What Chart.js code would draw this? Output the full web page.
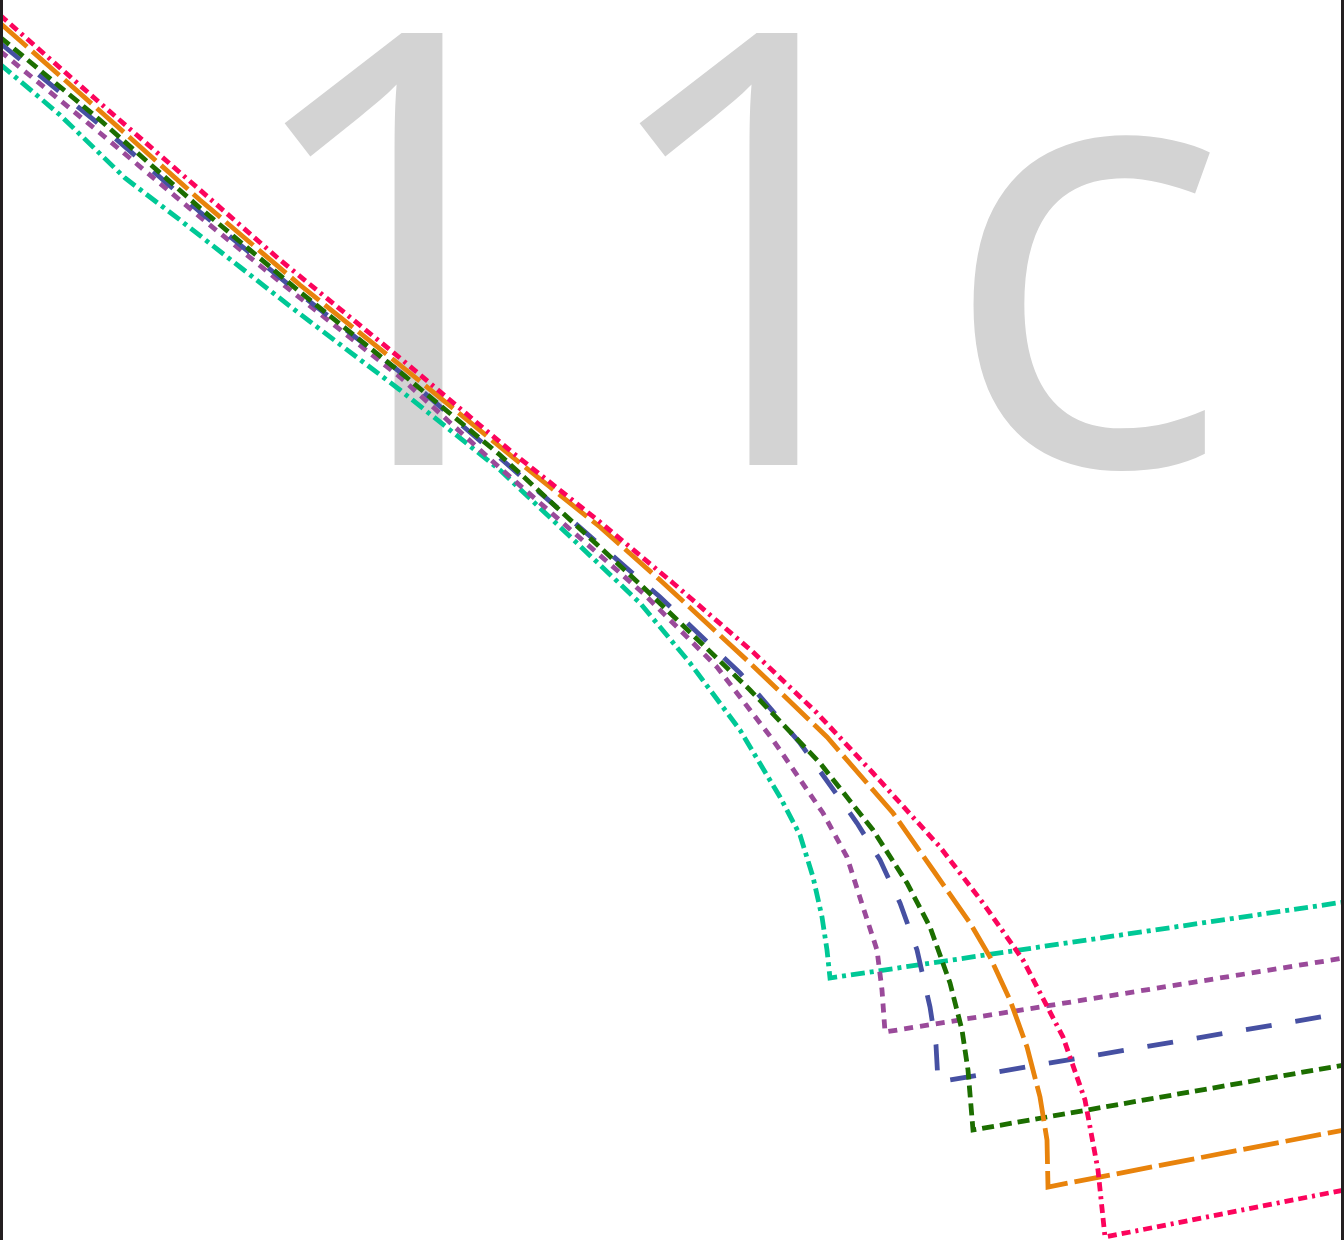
<!DOCTYPE html>
<html>
<head>
<meta charset="utf-8">
<script src="https://cdn.jsdelivr.net/npm/chart.js@4.4.1/dist/chart.umd.min.js"></script>
<style>
  body { margin: 0; background: #fff; }
  #wrap { position: relative; width: 1344px; height: 1240px; overflow: hidden; }
  #mark {
    position: absolute; left: 230px; top: -72px;
    font-family: "Open Sans", "Noto Sans", sans-serif; font-weight: 500;
    font-size: 605px; line-height: 1; color: #d3d3d3;
    white-space: nowrap; letter-spacing: 9px;
  }
  #myChart { position: absolute; left: 0; top: 0; }
  .edge { position: absolute; top: 0; width: 3px; height: 1240px; background: #231f20; }
</style>
</head>
<body>
<div id="wrap">
  <div id="mark">11c</div>
  <canvas id="myChart" width="1344" height="1240"></canvas>
  <div class="edge" style="left:0"></div>
  <div class="edge" style="right:0"></div>
</div>
<script>
'use strict';
// axis limits (no ticks are shown in the picture)
var xLimits = [0, 134.4];
var yLimits = [0, 124];

var names = ['pink', 'orange', 'green', 'blue', 'purple', 'teal'];
var colors = ['#fc045c', '#e8830c', '#1c6e00', '#4650a2', '#9a4a9a', '#00c896'];
var dashes = [[9, 5, 9, 5, 3, 5], [36, 7], [12, 6], [26, 24], [9, 7], [14, 5, 4, 5]];

var pinkX = [0, 10, 20, 28, 40, 51.3, 60, 67.3, 75.3, 81.7, 87.3, 94, 98.3, 102.3, 106.3, 108.5, 109.8, 110.5, 134.4];
var pinkY = [122.5, 113.7, 105.0, 98.0, 88.2, 78.7, 71.8, 65.7, 58.8, 52.7, 46.7, 39.3, 33.7, 28.0, 20.3, 14.0, 7.0, 0.3, 5.0];

var orangeX = [0, 10, 20, 30, 40, 52, 60, 66, 75, 82.7, 89.3, 93.3, 97, 99, 101, 102.7, 104, 104.7, 104.8, 134.4];
var orangeY = [121.7, 112.9, 104.0, 95.5, 87.5, 77.7, 71.3, 66.0, 57.7, 50.3, 42.7, 37.0, 31.7, 28.3, 24.0, 19.3, 14.3, 10.0, 5.3, 11.0];

var greenX = [0, 10, 20, 30, 40, 50, 64.3, 75, 82, 87.3, 90.7, 93, 95, 96.2, 96.8, 97.3, 134.4];
var greenY = [120.3, 112.0, 103.2, 94.8, 86.8, 78.5, 65.3, 55.0, 47.7, 41.0, 35.7, 31.3, 25.7, 21.0, 17.0, 11.0, 17.5];

var blueX = [0, 10, 20, 30, 40, 50, 66, 74, 80, 85.7, 88, 90, 91.7, 93, 93.6, 93.8, 134.4];
var blueY = [119.7, 111.5, 102.8, 94.6, 86.8, 78.2, 64.3, 56.7, 49.7, 41.7, 38.0, 33.7, 29.0, 23.3, 19.5, 15.8, 22.7];

var purpleX = [0, 10, 20, 30, 40, 50, 64.3, 71.7, 77.3, 82.3, 84.7, 86.3, 87.7, 88.2, 88.5, 134.4];
var purpleY = [118.9, 110.7, 102.3, 94.2, 86.3, 77.2, 64.7, 57.3, 50.0, 42.7, 38.3, 33.3, 29.0, 25.0, 20.8, 28.2];

var tealX = [0, 6, 12.5, 18, 24, 30, 40, 50, 64, 69, 74, 78, 80, 81.3, 82.2, 82.7, 83, 134.4];
var tealY = [117.6, 112.5, 106.2, 102.0, 97.3, 92.6, 85.0, 77.0, 63.7, 57.7, 51.0, 44.3, 40.5, 36.3, 32.3, 29.0, 26.2, 33.8];

var allX = [pinkX, orangeX, greenX, blueX, purpleX, tealX];
var allY = [pinkY, orangeY, greenY, blueY, purpleY, tealY];

function makePoints(xs, ys) {
  var pts = [];
  for (var i = 0; i < xs.length; i++) {
    pts.push({x: xs[i], y: ys[i]});
  }
  return pts;
}

var datasets = [];
for (var i = 0; i < names.length; i++) {
  datasets.push({
    label: names[i],
    data: makePoints(allX[i], allY[i]),
    showLine: true,
    borderColor: colors[i],
    backgroundColor: colors[i],
    borderWidth: 4.8,
    borderDash: dashes[i],
    borderCapStyle: 'butt',
    borderJoinStyle: 'miter',
    pointRadius: 0,
    tension: 0,
    fill: false
  });
}

var ctx = document.getElementById('myChart').getContext('2d');
var chart = new Chart(ctx, {
  type: 'scatter',
  data: { datasets: datasets },
  options: {
    responsive: false,
    animation: false,
    devicePixelRatio: 1,
    layout: { padding: 0 },
    plugins: { legend: { display: false }, tooltip: { enabled: false } },
    scales: {
      x: { type: 'linear', min: xLimits[0], max: xLimits[1], display: false },
      y: { type: 'linear', min: yLimits[0], max: yLimits[1], display: false }
    }
  }
});
</script>
</body>
</html>
